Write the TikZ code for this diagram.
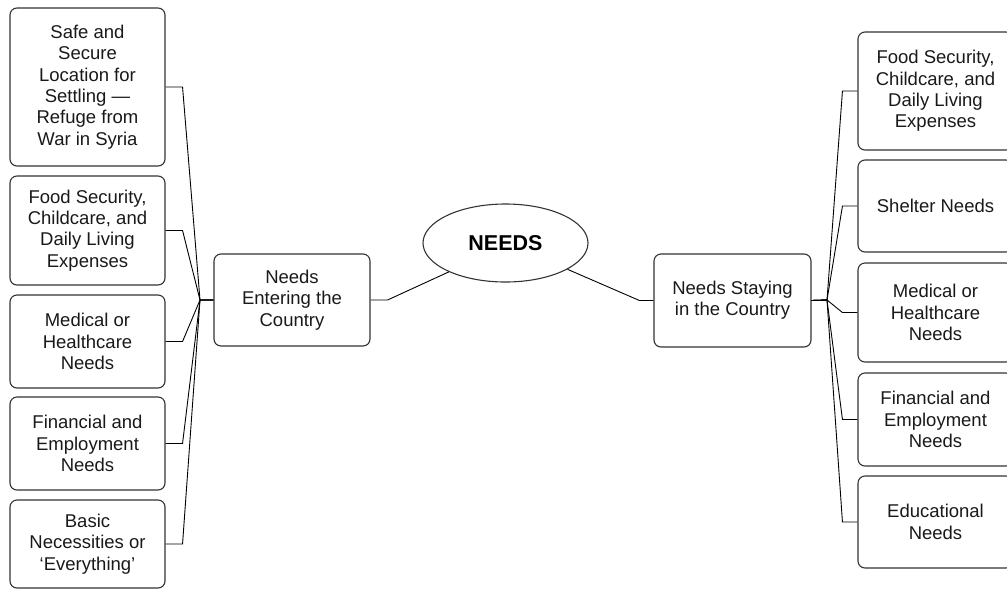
\documentclass[tikz,border=0pt]{standalone}
\usepackage{fontspec}
\setmainfont{Liberation Sans}
\usetikzlibrary{shapes.geometric}

\begin{document}
\begin{tikzpicture}[x=1pt,y=-1pt,
		needbox/.style={draw=black!80, line width=1.1pt, rounded corners=7pt, align=center, inner sep=0pt, text=black!90, font=\fontsize{18.5}{21.3}\selectfont},
		link/.style={draw=black, line width=0.9pt}]
			\useasboundingbox (0,0) rectangle (1007,590);
			% centre
			\node[draw=black!80, line width=1.1pt, ellipse, minimum width=165pt, minimum height=78pt, inner sep=0pt, font=\fontsize{21.5}{24}\selectfont\bfseries] (needs) at (505.5,243) {NEEDS};
			\node[needbox, minimum width=156pt, minimum height=92pt] (enter) at (292,300) {Needs\\Entering the\\Country};
			\node[needbox, minimum width=157pt, minimum height=93pt] (stay) at (732.5,300.5) {Needs Staying\\in the Country};
			\coordinate (jl) at (200,300);
			\coordinate (jr) at (827,300);
			% left side
			\node[needbox, minimum width=155pt, minimum height=158pt] (l1) at (87.5,87) {Safe and\\Secure\\Location for\\Settling —\\Refuge from\\War in Syria};
			\node[needbox, minimum width=155pt, minimum height=109pt] (l2) at (87.5,230.5) {Food Security,\\Childcare, and\\Daily Living\\Expenses};
			\node[needbox, minimum width=155pt, minimum height=93pt] (l3) at (87.5,341.5) {Medical or\\Healthcare\\Needs};
			\node[needbox, minimum width=155pt, minimum height=93pt] (l4) at (87.5,443.5) {Financial and\\Employment\\Needs};
			\node[needbox, minimum width=155pt, minimum height=88pt] (l5) at (87.5,544) {Basic\\Necessities or\\‘Everything’};
			% right side
			\node[needbox, minimum width=155pt, minimum height=118pt] (r1) at (935.5,91) {Food Security,\\Childcare, and\\Daily Living\\Expenses};
			\node[needbox, minimum width=155pt, minimum height=92pt] (r2) at (935.5,206) {Shelter Needs};
			\node[needbox, minimum width=155pt, minimum height=99pt] (r3) at (935.5,312.5) {Medical or\\Healthcare\\Needs};
			\node[needbox, minimum width=155pt, minimum height=93pt] (r4) at (935.5,419.5) {Financial and\\Employment\\Needs};
			\node[needbox, minimum width=155pt, minimum height=92pt] (r5) at (935.5,522) {Educational\\Needs};
			% connectors
			\draw[link] (enter.east) -- ++(17,0) -- (needs.207);
			\draw[link] (stay.west) -- ++(-14,0) -- (needs.-23);
			\foreach \n in {l1,l2,l3,l4,l5}
				\draw[link] (\n.east) -- ++(17,0) -- (jl) -- (enter.west);
			\foreach \n in {r1,r2,r3,r4,r5}
				\draw[link] (stay.east) -- (jr) -- ([xshift=-15pt]\n.west) -- (\n.west);
		\end{tikzpicture}
\end{document}
